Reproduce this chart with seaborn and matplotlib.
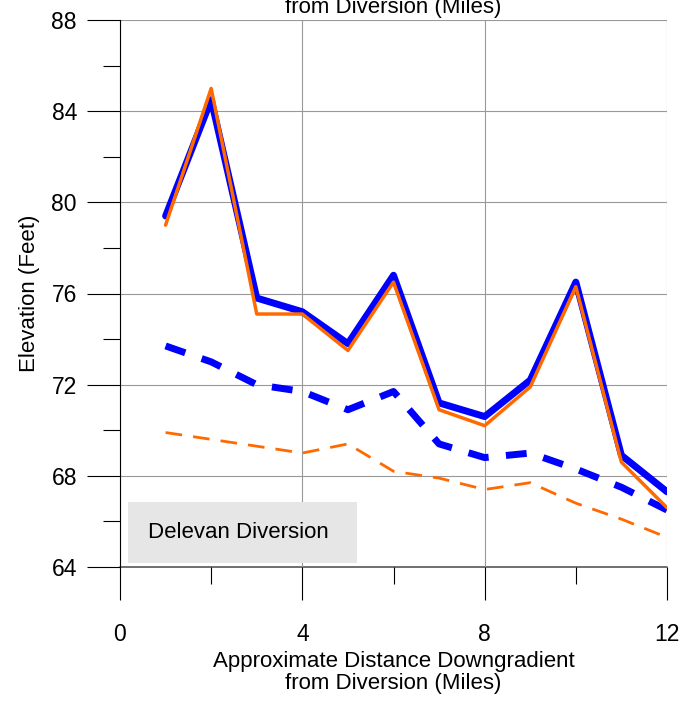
import numpy as np
import matplotlib
matplotlib.use('Agg')
import matplotlib.pyplot as plt
import seaborn as sns
from matplotlib.patches import Rectangle

miles = [1, 2, 3, 4, 5, 6, 7, 8, 9, 10, 11, 12]
blue_solid = [79.4, 84.5, 75.8, 75.2, 73.8, 76.8, 71.2, 70.6, 72.2, 76.5, 68.9, 67.3]
orange_solid = [79.0, 85.0, 75.1, 75.1, 73.5, 76.5, 70.9, 70.2, 71.9, 76.3, 68.6, 66.6]
blue_dashed = [73.7, 73.0, 72.0, 71.7, 70.9, 71.7, 69.4, 68.8, 69.0, 68.3, 67.5, 66.5]
orange_dashed = [69.9, 69.6, 69.3, 69.0, 69.4, 68.2, 67.9, 67.4, 67.7, 66.8, 66.1, 65.3]

sns.set_style('white')
plt.rcParams['font.family'] = ['Liberation Sans', 'DejaVu Sans']
plt.rcParams['text.color'] = 'black'
plt.rcParams['axes.labelcolor'] = 'black'

fig = plt.figure(figsize=(6.84, 7.02), dpi=100)
ax = fig.add_axes([120/684, 1 - 567/702, 547/684, 547/702])

sns.lineplot(x=miles, y=blue_dashed, ax=ax, color='#0000ff', lw=5, linestyle=(0, (3, 2.5)))
sns.lineplot(x=miles, y=orange_dashed, ax=ax, color='#ff6a00', lw=2, linestyle=(0, (6, 4)))
sns.lineplot(x=miles, y=blue_solid, ax=ax, color='#0000ff', lw=5)
sns.lineplot(x=miles, y=orange_solid, ax=ax, color='#ff6a00', lw=2.5)

ax.set_xlim(0, 12)
ax.set_ylim(64, 88)
ax.set_xticks([0, 4, 8, 12])
ax.set_xticks([2, 6, 10], minor=True)
ax.set_yticks([64, 68, 72, 76, 80, 84, 88])
ax.set_yticks(np.arange(66, 88, 4), minor=True)
ax.grid(True, which='major', color='#999999', lw=0.8)
ax.axhline(64, color='#555555', lw=1.2, clip_on=False, zorder=0)
ax.tick_params(bottom=True, left=True, which='both')
ax.tick_params(axis='both', which='major', direction='out', length=24, width=0.8,
               color='black', labelsize=16.5, labelcolor='black')
ax.tick_params(axis='both', which='minor', direction='out', length=12, width=0.8, color='black')
ax.tick_params(axis='x', which='major', pad=16)
ax.tick_params(axis='y', which='major', pad=7)
for s in ['top', 'right', 'bottom']:
    ax.spines[s].set_visible(False)
ax.spines['left'].set_color('black')
ax.spines['left'].set_linewidth(0.8)
ax.set_xlabel('Approximate Distance Downgradient\nfrom Diversion (Miles)', fontsize=16,
              labelpad=4, linespacing=1.05)
ax.set_ylabel('Elevation (Feet)', fontsize=16, labelpad=8)
fig.text(0.575, 1.005, 'Approximate Distance Downgradient\nfrom Diversion (Miles)', ha='center',
         va='center', fontsize=16, linespacing=1.05)
ax.add_patch(Rectangle((0.175, 64.18), 5.03, 2.68, facecolor='#e6e6e6', edgecolor='none', zorder=3))
ax.text(2.6, 65.52, 'Delevan Diversion', fontsize=16, va='center', ha='center', zorder=4)
fig.savefig('out.png', dpi=100)
